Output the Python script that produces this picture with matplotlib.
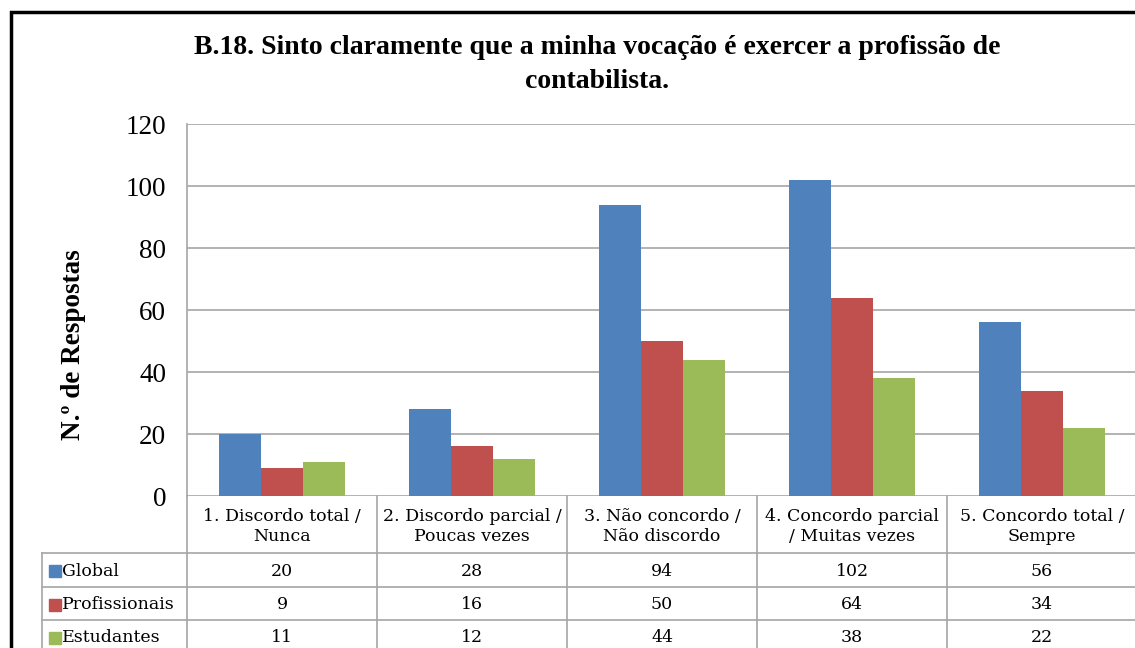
import matplotlib.pyplot as plt
import numpy as np

categorias = ['1. Discordo total /\nNunca', '2. Discordo parcial /\nPoucas vezes',
              '3. Não concordo /\nNão discordo', '4. Concordo parcial\n/ Muitas vezes',
              '5. Concordo total /\nSempre']
series = ['Global', 'Profissionais', 'Estudantes']
global_ = [20, 28, 94, 102, 56]
profissionais = [9, 16, 50, 64, 34]
estudantes = [11, 12, 44, 38, 22]
cores = ['#4F81BD', '#C0504D', '#9BBB59']

W, H = 1135, 648
fig = plt.figure(figsize=(W / 100, H / 100), dpi=100)
serif = ['Liberation Serif', 'DejaVu Serif']
serif_tab = ['DejaVu Serif']

# area do gráfico (em píxeis: x 187..1137, y 124..496)
x0, x1, ytop, ybot = 187, 1137, 124, 496
ax = fig.add_axes([x0 / W, 1 - ybot / H, (x1 - x0) / W, (ybot - ytop) / H])
x = np.arange(len(categorias))
larg = 0.222
for i, (vals, cor) in enumerate(zip([global_, profissionais, estudantes], cores)):
    ax.bar(x + (i - 1) * larg, vals, larg, color=cor, zorder=3)

ax.set_xlim(-0.5, 4.5)
ax.set_ylim(0, 120)
ax.set_yticks(range(0, 121, 20))
ax.yaxis.grid(True, color='#A6A6A6', linewidth=1.2)
ax.set_xticks([])
for s in ['top', 'right', 'bottom']:
    ax.spines[s].set_visible(False)
ax.spines['left'].set_color('#A6A6A6')
ax.spines['left'].set_linewidth(1.2)
ax.tick_params(axis='y', length=0, pad=15, labelsize=19.5)
for t in ax.get_yticklabels():
    t.set_fontfamily(serif)

# camada em píxeis para a tabela, título e moldura
ov = fig.add_axes([0, 0, 1, 1], facecolor='none')
ov.set_xlim(0, W)
ov.set_ylim(H, 0)
ov.axis('off')

ov.plot([11, 11, W], [H, 12, 12], color='black', lw=2.5, solid_joinstyle='miter')

ov.text(597, 48, 'B.18. Sinto claramente que a minha vocação é exercer a profissão de',
        ha='center', va='center', fontsize=20, fontweight='bold', family=serif)
ov.text(597, 82, 'contabilista.', ha='center', va='center', fontsize=20,
        fontweight='bold', family=serif)
ov.text(73, 345, 'N.º de Respostas', rotation=90, ha='center', va='center',
        fontsize=19.5, fontweight='bold', family=serif)

# tabela de dados
cinza = '#A6A6A6'
col_w = (x1 - x0) / len(categorias)
linhas = [496, 553, 587, 620, 654]
ov.plot([x0, x0], [ybot, H], color=cinza, lw=1.2)
for j in range(1, len(categorias) + 1):
    ov.plot([x0 + j * col_w] * 2, [ybot, H], color=cinza, lw=1.2)
ov.plot([42, 42], [linhas[1], H], color=cinza, lw=1.2)
for yy in linhas[1:]:
    ov.plot([42, x1], [yy, yy], color=cinza, lw=1.2)

for j, cat in enumerate(categorias):
    ov.text(x0 + (j + 0.5) * col_w, (linhas[0] + linhas[1]) / 2 + 2, cat, ha='center',
            va='center', fontsize=12.5, family=serif_tab, linespacing=1.25)

for i, (nome, vals, cor) in enumerate(zip(series, [global_, profissionais, estudantes], cores)):
    yc = (linhas[i + 1] + linhas[i + 2]) / 2 + 1
    ov.add_patch(plt.Rectangle((49, yc - 6), 12, 12, color=cor))
    ov.text(62, yc, nome, ha='left', va='center', fontsize=12.5, family=serif_tab)
    for j, v in enumerate(vals):
        ov.text(x0 + (j + 0.5) * col_w, yc, str(v), ha='center', va='center',
                fontsize=12.5, family=serif_tab)

fig.savefig('out.png', dpi=100)
